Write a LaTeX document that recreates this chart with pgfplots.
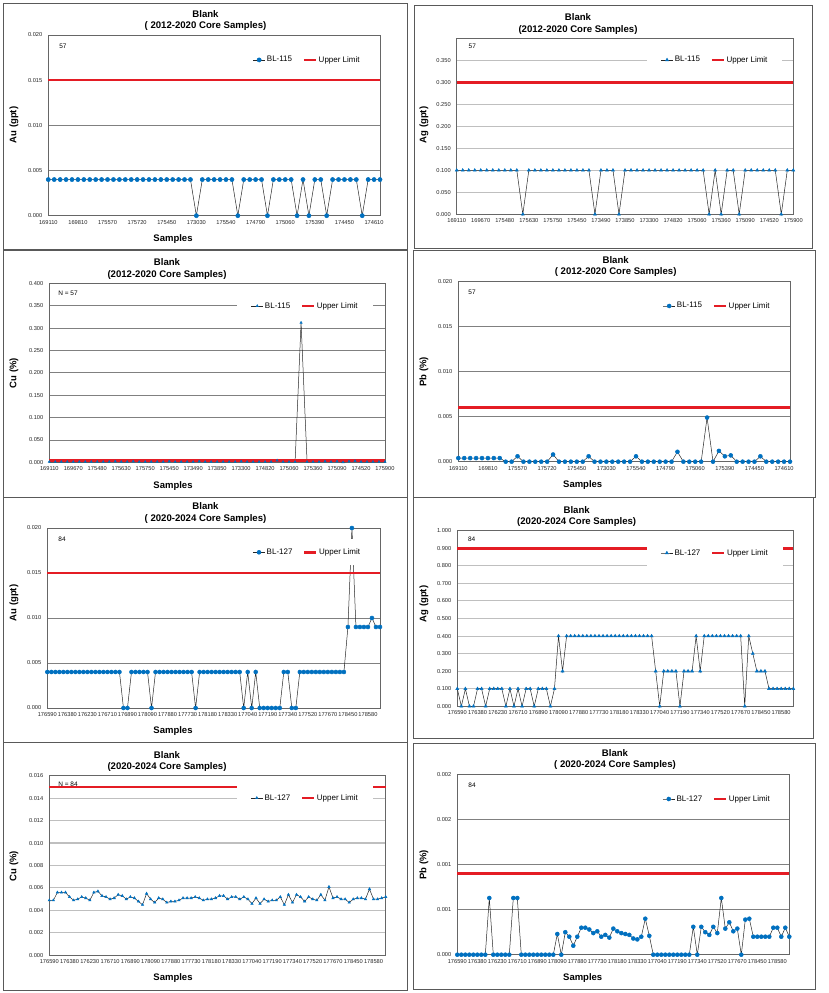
\documentclass[border=0pt]{standalone}
\usepackage{pgfplots}
\pgfplotsset{compat=1.18}
\usepackage{fontspec}
\setmainfont{Liberation Sans}
\definecolor{myblue}{RGB}{0,112,192}
\definecolor{myred}{RGB}{228,28,36}
\pgfplotsset{
 panel/.style={scale only axis, anchor=south west, clip=false,
   axis line style={black!60, line width=0.7pt},
   ymajorgrids, major grid style={black!50, line width=0.6pt},
   major tick length=0pt, tick style={draw=none},
   ymin=0, scaled y ticks=false, scaled x ticks=false,
   yticklabel style={font=\fontsize{5.7}{6}\selectfont, text=black!85, xshift=-2.5pt},
   xticklabel style={font=\fontsize{5.7}{6}\selectfont, text=black!85, yshift=-1pt},
   legend style={fill=white, draw=none, anchor=center, font=\fontsize{8}{9}\selectfont,
     legend columns=2, inner xsep=13.5pt, inner ysep=8pt, nodes={inner sep=1.5pt},
     /tikz/every even column/.append style={column sep=9pt}},
   legend image code/.code={\draw[mark repeat=2,mark phase=2,##1] plot coordinates {(0pt,0pt) (6pt,0pt) (12pt,0pt)};},
   /pgf/number format/fixed, /pgf/number format/fixed zerofill,
   /pgf/number format/precision=3, /pgf/number format/assume math mode=true,
 },
 lightgrid/.style={major grid style={black!25, line width=1.1pt}},
 series/.style={black!85, line width=0.5pt, mark options={draw=myblue, fill=myblue, solid}},
 limit/.style={myred, line width=2.6pt, no markers},
}
\tikzset{
 ttl/.style={font=\bfseries\fontsize{9.6}{11.2}\selectfont, align=center},
 ylab/.style={font=\bfseries\fontsize{9.5}{11}\selectfont, rotate=90},
 xlab/.style={font=\bfseries\fontsize{9.5}{11}\selectfont},
 nlab/.style={font=\fontsize{6.5}{7}\selectfont},
 frame/.style={black!65, line width=0.8pt},
}
\begin{document}
\begin{tikzpicture}
\path[use as bounding box] (0pt,0pt) rectangle (829pt,993pt);
% frames
\draw[frame] (3pt,744pt) rectangle (407pt,990pt);
\draw[frame] (414pt,745pt) rectangle (812pt,988pt);
\draw[frame] (3pt,496pt) rectangle (407pt,743pt);
\draw[frame] (413pt,496pt) rectangle (815pt,743pt);
\draw[frame] (3pt,251pt) rectangle (407pt,496pt);
\draw[frame] (413pt,255pt) rectangle (813pt,496pt);
\draw[frame] (3pt,3pt) rectangle (407pt,251pt);
\draw[frame] (413pt,4pt) rectangle (815pt,250pt);
\node[nlab] at (68pt,209pt) {N = 84};

% ---------- Panel 1: Au 2012-2020
\begin{axis}[panel, at={(48.3pt,777.3pt)}, width=331.7pt, height=180.7pt,
  xmin=0, xmax=56, ymax=0.02, ytick={0,0.005,0.01,0.015,0.02},
  xtick={0,5,10,15,20,25,30,35,40,45,50,55},
  xticklabels={169110,169810,175570,175720,175450,173030,175540,174790,175060,175390,174450,174610},
  legend style={at={(0.780,0.862)}}]
\addplot[series, mark=*, mark size=2.1pt] table[x expr=\coordindex, y index=0, row sep=\\] {
0.004\\0.004\\0.004\\0.004\\0.004\\0.004\\0.004\\0.004\\0.004\\0.004\\
0.004\\0.004\\0.004\\0.004\\0.004\\0.004\\0.004\\0.004\\0.004\\0.004\\
0.004\\0.004\\0.004\\0.004\\0.004\\0\\0.004\\0.004\\0.004\\0.004\\
0.004\\0.004\\0\\0.004\\0.004\\0.004\\0.004\\0\\0.004\\0.004\\
0.004\\0.004\\0\\0.004\\0\\0.004\\0.004\\0\\0.004\\0.004\\
0.004\\0.004\\0.004\\0\\0.004\\0.004\\0.004\\};
\addplot[limit] coordinates {(0,0.015) (56,0.015)};
\legend{BL-115,Upper Limit}
\end{axis}

% ---------- Panel 2: Ag 2012-2020
\begin{axis}[panel, lightgrid, at={(456.7pt,778.7pt)}, width=336.6pt, height=176pt,
  xmin=0, xmax=56, ymax=0.4, ytick={0,0.05,0.1,0.15,0.2,0.25,0.3,0.35},
  xtick={0,4,8,12,16,20,24,28,32,36,40,44,48,52,56},
  xticklabels={169110,169670,175480,175630,175750,175450,173490,173850,173300,174820,175060,175360,175090,174520,175900},
  legend style={at={(0.767,0.877)}}]
\addplot[series, mark=triangle*, mark size=1.7pt] table[x expr=\coordindex, y index=0, row sep=\\] {
0.1\\0.1\\0.1\\0.1\\0.1\\0.1\\0.1\\0.1\\0.1\\0.1\\
0.1\\0\\0.1\\0.1\\0.1\\0.1\\0.1\\0.1\\0.1\\0.1\\
0.1\\0.1\\0.1\\0\\0.1\\0.1\\0.1\\0\\0.1\\0.1\\
0.1\\0.1\\0.1\\0.1\\0.1\\0.1\\0.1\\0.1\\0.1\\0.1\\
0.1\\0.1\\0\\0.1\\0\\0.1\\0.1\\0\\0.1\\0.1\\
0.1\\0.1\\0.1\\0.1\\0\\0.1\\0.1\\};
\addplot[limit] coordinates {(0,0.3) (56,0.3)};
\legend{BL-115,Upper Limit}
\end{axis}

% ---------- Panel 3: Cu 2012-2020
\begin{axis}[panel, at={(49.3pt,530.7pt)}, width=335.7pt, height=179pt,
  xmin=0, xmax=56, ymax=0.4, ytick={0,0.05,0.1,0.15,0.2,0.25,0.3,0.35,0.4},
  xtick={0,4,8,12,16,20,24,28,32,36,40,44,48,52,56},
  xticklabels={169110,169670,175480,175630,175750,175450,173490,173850,173300,174820,175060,175360,175090,174520,175900},
  legend style={at={(0.762,0.873)}}]
\addplot[series, mark=triangle*, mark size=1.3pt] table[x expr=\coordindex, y index=0, row sep=\\] {
0.001\\0.001\\0.001\\0.001\\0.001\\0.001\\0.001\\0.001\\0.001\\0.001\\
0.001\\0.002\\0.001\\0.001\\0.002\\0.001\\0.001\\0.001\\0.001\\0.001\\
0.002\\0.001\\0.001\\0.001\\0.001\\0.002\\0.001\\0.001\\0.001\\0.001\\
0.001\\0.001\\0.002\\0.001\\0.001\\0.001\\0.001\\0.001\\0.004\\0.001\\
0.001\\0.001\\0.312\\0.001\\0.001\\0.001\\0.002\\0.001\\0.002\\0\\
0.002\\0.003\\0.001\\0.001\\0.001\\0.001\\0.001\\};
\addplot[limit] coordinates {(0,0.004) (56,0.004)};
\legend{BL-115,Upper Limit}
\end{axis}

% ---------- Panel 4: Pb 2012-2020
\begin{axis}[panel, at={(458.3pt,531.3pt)}, width=331.7pt, height=180pt,
  xmin=0, xmax=56, ymax=0.02, ytick={0,0.005,0.01,0.015,0.02},
  xtick={0,5,10,15,20,25,30,35,40,45,50,55},
  xticklabels={169110,169810,175570,175720,175450,173030,175540,174790,175060,175390,174450,174610},
  legend style={at={(0.780,0.865)}}]
\addplot[series, mark=*, mark size=2pt] table[x expr=\coordindex, y index=0, row sep=\\] {
0.0004\\0.0004\\0.0004\\0.0004\\0.0004\\0.0004\\0.0004\\0.0004\\0\\0\\
0.0006\\0\\0\\0\\0\\0\\0.0008\\0\\0\\0\\
0\\0\\0.0006\\0\\0\\0\\0\\0\\0\\0\\
0.0006\\0\\0\\0\\0\\0\\0\\0.0011\\0\\0\\
0\\0\\0.0049\\0\\0.0012\\0.0006\\0.0007\\0\\0\\0\\
0\\0.0006\\0\\0\\0\\0\\0\\};
\addplot[limit] coordinates {(0,0.006) (56,0.006)};
\legend{BL-115,Upper Limit}
\end{axis}

% ---------- Panel 5: Au 2020-2024
\begin{axis}[panel, at={(47.3pt,285pt)}, width=332.7pt, height=180pt,
  xmin=0, xmax=83, ymax=0.02, ytick={0,0.005,0.01,0.015,0.02},
  xtick={0,5,10,15,20,25,30,35,40,45,50,55,60,65,70,75,80},
  xticklabels={176590,176380,176230,176710,176890,178090,177880,177730,178180,178330,177040,177190,177340,177520,177670,178450,178580},
  legend style={at={(0.781,0.865)}}]
\addplot[series, mark=*, mark size=2pt] table[x expr=\coordindex, y index=0, row sep=\\] {
0.004\\0.004\\0.004\\0.004\\0.004\\0.004\\0.004\\0.004\\0.004\\0.004\\
0.004\\0.004\\0.004\\0.004\\0.004\\0.004\\0.004\\0.004\\0.004\\0\\
0\\0.004\\0.004\\0.004\\0.004\\0.004\\0\\0.004\\0.004\\0.004\\
0.004\\0.004\\0.004\\0.004\\0.004\\0.004\\0.004\\0\\0.004\\0.004\\
0.004\\0.004\\0.004\\0.004\\0.004\\0.004\\0.004\\0.004\\0.004\\0\\
0.004\\0\\0.004\\0\\0\\0\\0\\0\\0\\0.004\\
0.004\\0\\0\\0.004\\0.004\\0.004\\0.004\\0.004\\0.004\\0.004\\
0.004\\0.004\\0.004\\0.004\\0.004\\0.009\\0.020\\0.009\\0.009\\0.009\\
0.009\\0.010\\0.009\\0.009\\};
\addplot[limit] coordinates {(0,0.015) (83,0.015)};
\legend{BL-127,Upper Limit}
\end{axis}

% ---------- Panel 6: Ag 2020-2024
\begin{axis}[panel, lightgrid, at={(457.3pt,286.7pt)}, width=336pt, height=175.6pt,
  xmin=0, xmax=83, ymax=1, ytick={0,0.1,0.2,0.3,0.4,0.5,0.6,0.7,0.8,0.9,1},
  xtick={0,5,10,15,20,25,30,35,40,45,50,55,60,65,70,75,80},
  xticklabels={176590,176380,176230,176710,176890,178090,177880,177730,178180,178330,177040,177190,177340,177520,177670,178450,178580},
  legend style={at={(0.767,0.873)}}]
\addplot[series, mark=triangle*, mark size=1.7pt] table[x expr=\coordindex, y index=0, row sep=\\] {
0.1\\0\\0.1\\0\\0\\0.1\\0.1\\0\\0.1\\0.1\\
0.1\\0.1\\0\\0.1\\0\\0.1\\0\\0.1\\0.1\\0\\
0.1\\0.1\\0.1\\0\\0.1\\0.4\\0.2\\0.4\\0.4\\0.4\\
0.4\\0.4\\0.4\\0.4\\0.4\\0.4\\0.4\\0.4\\0.4\\0.4\\
0.4\\0.4\\0.4\\0.4\\0.4\\0.4\\0.4\\0.4\\0.4\\0.2\\
0\\0.2\\0.2\\0.2\\0.2\\0\\0.2\\0.2\\0.2\\0.4\\
0.2\\0.4\\0.4\\0.4\\0.4\\0.4\\0.4\\0.4\\0.4\\0.4\\
0.4\\0\\0.4\\0.3\\0.2\\0.2\\0.2\\0.1\\0.1\\0.1\\
0.1\\0.1\\0.1\\0.1\\};
\addplot[limit] coordinates {(0,0.9) (83,0.9)};
\legend{BL-127,Upper Limit}
\end{axis}

% ---------- Panel 7: Cu 2020-2024
\begin{axis}[panel, lightgrid, at={(49.3pt,37.7pt)}, width=336.4pt, height=179.6pt,
  xmin=0, xmax=83, ymax=0.016, ytick={0,0.002,0.004,0.006,0.008,0.01,0.012,0.014,0.016},
  xtick={0,5,10,15,20,25,30,35,40,45,50,55,60,65,70,75,80},
  xticklabels={176590,176380,176230,176710,176890,178090,177880,177730,178180,178330,177040,177190,177340,177520,177670,178450,178580},
  legend style={at={(0.760,0.876)}}]
\addplot[series, mark=triangle*, mark size=1.4pt] table[x expr=\coordindex, y index=0, row sep=\\] {
0.0049\\0.0049\\0.0056\\0.0056\\0.0056\\0.0052\\0.0049\\0.0050\\0.0052\\0.0051\\
0.0049\\0.0056\\0.0057\\0.0053\\0.0052\\0.0050\\0.0051\\0.0054\\0.0053\\0.0050\\
0.0052\\0.0051\\0.0048\\0.0045\\0.0055\\0.0050\\0.0047\\0.0051\\0.0050\\0.0047\\
0.0048\\0.0048\\0.0049\\0.0051\\0.0051\\0.0051\\0.0052\\0.0051\\0.0049\\0.0050\\
0.0050\\0.0051\\0.0053\\0.0053\\0.0050\\0.0052\\0.0052\\0.0050\\0.0052\\0.0050\\
0.0046\\0.0051\\0.0046\\0.0050\\0.0048\\0.0049\\0.0049\\0.0052\\0.0045\\0.0054\\
0.0047\\0.0054\\0.0052\\0.0048\\0.0052\\0.0050\\0.0049\\0.0054\\0.0049\\0.0061\\
0.0051\\0.0052\\0.0050\\0.0050\\0.0047\\0.0050\\0.0051\\0.0051\\0.0050\\0.0059\\
0.0050\\0.0050\\0.0051\\0.0052\\};
\addplot[limit] coordinates {(0,0.015) (83,0.015)};
\legend{BL-127,Upper Limit}
\end{axis}

% ---------- Panel 8: Pb 2020-2024
\begin{axis}[panel, at={(457.3pt,38.3pt)}, width=332pt, height=180pt,
  xmin=0, xmax=83, ymax=0.002, ytick={0,0.0005,0.001,0.0015,0.002},
  yticklabels={0.000,0.001,0.001,0.002,0.002},
  xtick={0,5,10,15,20,25,30,35,40,45,50,55,60,65,70,75,80},
  xticklabels={176590,176380,176230,176710,176890,178090,177880,177730,178180,178330,177040,177190,177340,177520,177670,178450,178580},
  legend style={at={(0.782,0.865)}}]
\addplot[series, mark=*, mark size=2pt] table[x expr=\coordindex, y index=0, row sep=\\] {
0\\0\\0\\0\\0\\0\\0\\0\\0.00063\\0\\
0\\0\\0\\0\\0.00063\\0.00063\\0\\0\\0\\0\\
0\\0\\0\\0\\0\\0.00023\\0\\0.00025\\0.0002\\0.0001\\
0.0002\\0.0003\\0.0003\\0.00028\\0.00024\\0.00026\\0.0002\\0.00022\\0.00019\\0.00029\\
0.00026\\0.00024\\0.00023\\0.00022\\0.00018\\0.00017\\0.0002\\0.0004\\0.00021\\0\\
0\\0\\0\\0\\0\\0\\0\\0\\0\\0.00031\\
0\\0.00031\\0.00025\\0.00022\\0.00031\\0.00024\\0.00063\\0.00029\\0.00036\\0.00026\\
0.00029\\0\\0.00039\\0.0004\\0.0002\\0.0002\\0.0002\\0.0002\\0.0002\\0.0003\\
0.0003\\0.0002\\0.0003\\0.0002\\};
\addplot[limit] coordinates {(0,0.0009) (83,0.0009)};
\legend{BL-127,Upper Limit}
\end{axis}

% ---------- texts
\node[ttl] at (205.5pt,972.5pt) {Blank\\( 2012-2020 Core Samples)};
\node[ttl] at (578pt,969pt) {Blank\\(2012-2020 Core Samples)};
\node[ttl] at (167pt,724pt) {Blank\\(2012-2020 Core Samples)};
\node[ttl] at (615.7pt,726.2pt) {Blank\\( 2012-2020 Core Samples)};
\node[ttl] at (205.5pt,480pt) {Blank\\( 2020-2024 Core Samples)};
\node[ttl] at (576.7pt,476.2pt) {Blank\\(2020-2024 Core Samples)};
\node[ttl] at (167pt,231.2pt) {Blank\\(2020-2024 Core Samples)};
\node[ttl] at (615pt,233.7pt) {Blank\\( 2020-2024 Core Samples)};

\node[ylab] at (14pt,868pt) {Au (gpt)};
\node[ylab] at (424pt,868pt) {Ag (gpt)};
\node[ylab] at (14pt,620pt) {Cu (\%)};
\node[ylab] at (424pt,621.3pt) {Pb (\%)};
\node[ylab] at (14pt,390pt) {Au (gpt)};
\node[ylab] at (424pt,389pt) {Ag (gpt)};
\node[ylab] at (14pt,127pt) {Cu (\%)};
\node[ylab] at (424pt,128.3pt) {Pb (\%)};

\node[xlab] at (173pt,754pt) {Samples};
\node[xlab] at (173pt,507pt) {Samples};
\node[xlab] at (582.7pt,508pt) {Samples};
\node[xlab] at (173pt,262pt) {Samples};
\node[xlab] at (173pt,15pt) {Samples};
\node[xlab] at (582.7pt,15pt) {Samples};

\node[nlab] at (63pt,947pt) {57};
\node[nlab] at (472.3pt,947pt) {57};
\node[nlab] at (68pt,700pt) {N = 57};
\node[nlab] at (472pt,700.3pt) {57};
\node[nlab] at (62pt,454pt) {84};
\node[nlab] at (471.7pt,453.3pt) {84};
\node[nlab] at (472pt,207.7pt) {84};
\end{tikzpicture}
\end{document}
